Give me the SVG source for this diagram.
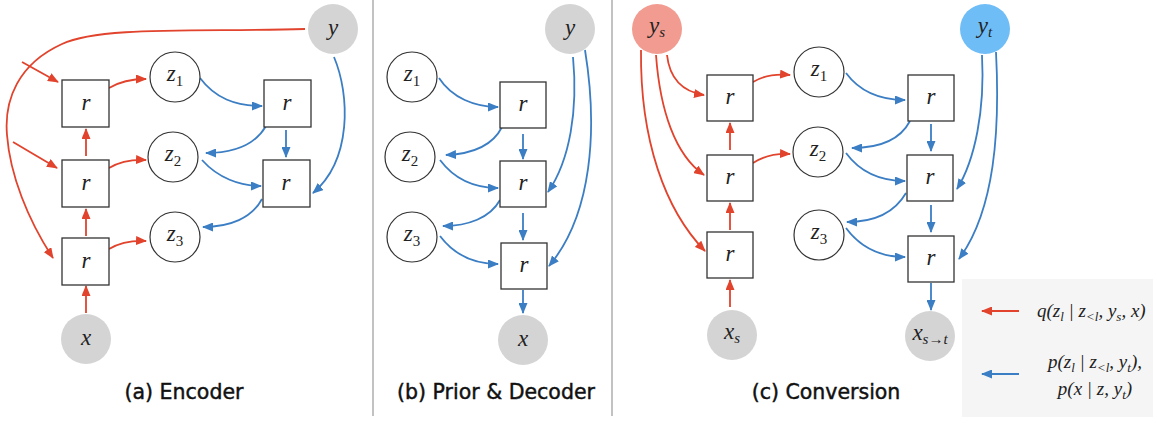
<svg xmlns="http://www.w3.org/2000/svg" width="1157" height="423" viewBox="0 0 1157 423">
<defs>
<marker id="ar" markerUnits="userSpaceOnUse" markerWidth="11" markerHeight="9" refX="10" refY="4.5" orient="auto"><path d="M0,0 L11,4.5 L0,9 z" fill="#e1432d"/></marker>
<marker id="ab" markerUnits="userSpaceOnUse" markerWidth="11" markerHeight="9" refX="10" refY="4.5" orient="auto"><path d="M0,0 L11,4.5 L0,9 z" fill="#3b7ec4"/></marker>
</defs>
<style>
.box{fill:#fff;stroke:#333;stroke-width:1.3}
.zc{fill:#fff;stroke:#333;stroke-width:1.2}
.gc{fill:#d4d4d4}
.lbl{font-family:'Liberation Serif','Times New Roman',serif;font-style:italic;font-size:23px;fill:#222;text-anchor:middle}
.sub{font-size:15px}
.num{font-size:15px;font-style:normal}
.red{fill:none;stroke:#e1432d;stroke-width:1.8;marker-end:url(#ar)}
.blue{fill:none;stroke:#3b7ec4;stroke-width:1.8;marker-end:url(#ab)}
.cap{font-family:'DejaVu Sans',sans-serif;font-size:20.5px;fill:#111;stroke:#111;stroke-width:0.45;text-anchor:middle}
.div{stroke:#999;stroke-width:1.2}
.leg{font-family:'Liberation Serif','Times New Roman',serif;font-style:italic;font-size:19px;fill:#222}
</style>
<rect width="1157" height="423" fill="#fff"/>
<line class="div" x1="373" y1="0" x2="373" y2="416"/>
<line class="div" x1="612" y1="0" x2="612" y2="416"/>

<g id="connectors">
<path class="red" d="M305,29 C200,32 100,26 62,44 C18,64 4,100 7,135 C10,175 28,220 53,258"/>
<path class="red" d="M22,62 L58,82"/>
<path class="red" d="M13,142 L57,168"/>
<path class="red" d="M109,88 Q124,79 146,79"/>
<path class="red" d="M109,168 Q124,159 146,160"/>
<path class="red" d="M109,249 Q124,240 146,241"/>
<path class="red" d="M86,156 L86,129"/>
<path class="red" d="M86,236 L86,209"/>
<path class="red" d="M86,313 L86,286"/>
<path class="blue" d="M200,78 C215,98 235,106 262,106"/>
<path class="blue" d="M266,126 C255,145 235,153 206,153"/>
<path class="blue" d="M286,130 L286,157"/>
<path class="blue" d="M202,160 C218,178 240,186 261,186"/>
<path class="blue" d="M262,199 C252,218 230,227 203,227"/>
<path class="blue" d="M334,57 C350,95 352,160 313,193"/>
<path class="blue" d="M439,78 C452,98 475,107 498,107"/>
<path class="blue" d="M502,127 C492,147 470,154 446,155"/>
<path class="blue" d="M523,134 L523,159"/>
<path class="blue" d="M440,160 C455,180 475,188 498,188"/>
<path class="blue" d="M500,200 C490,218 468,226 443,226"/>
<path class="blue" d="M523,213 L523,240"/>
<path class="blue" d="M440,236 C455,256 475,264 498,264"/>
<path class="blue" d="M523,290 L523,313"/>
<path class="blue" d="M573,57 C578,110 570,160 548,192"/>
<path class="blue" d="M585,50 C598,130 592,215 549,266"/>
<path class="red" d="M667,55 C670,82 685,92 704,95"/>
<path class="red" d="M656,55 C660,110 675,155 704,175"/>
<path class="red" d="M641,50 C640,140 665,210 705,251"/>
<path class="red" d="M753,82 Q768,73 790,75"/>
<path class="red" d="M753,163 Q768,153 790,154"/>
<path class="red" d="M730,150 L730,123"/>
<path class="red" d="M730,230 L730,203"/>
<path class="red" d="M730,307 L730,280"/>
<path class="blue" d="M846,73 C860,92 880,100 905,100"/>
<path class="blue" d="M910,121 C900,140 878,148 852,148"/>
<path class="blue" d="M931,124 L931,151"/>
<path class="blue" d="M846,153 C860,172 880,181 905,181"/>
<path class="blue" d="M906,193 C895,212 875,222 847,222"/>
<path class="blue" d="M931,205 L931,232"/>
<path class="blue" d="M846,228 C860,247 880,257 905,257"/>
<path class="blue" d="M931,283 L931,310"/>
<path class="blue" d="M982,55 C985,110 975,160 957,189"/>
<path class="blue" d="M996,52 C1000,130 995,210 959,259"/>
</g>

<g id="a-y"><circle class="gc" cx="333" cy="29" r="25"/><text class="lbl" x="333" y="35">y</text></g>
<g id="a-z1"><circle class="zc" cx="175" cy="77" r="25"/><text class="lbl" x="175" y="81">z<tspan class="num" dy="5">1</tspan></text></g>
<g id="a-z2"><circle class="zc" cx="173" cy="157" r="25"/><text class="lbl" x="173" y="161">z<tspan class="num" dy="5">2</tspan></text></g>
<g id="a-z3"><circle class="zc" cx="175" cy="237" r="25"/><text class="lbl" x="175" y="241">z<tspan class="num" dy="5">3</tspan></text></g>
<g id="a-x"><circle class="gc" cx="86" cy="339" r="25"/><text class="lbl" x="86" y="345">x</text></g>
<g id="a-r1"><rect class="box" x="62" y="80" width="47" height="47"/><text class="lbl" x="86" y="110">r</text></g>
<g id="a-r2"><rect class="box" x="62" y="160" width="47" height="47"/><text class="lbl" x="86" y="190">r</text></g>
<g id="a-r3"><rect class="box" x="62" y="238" width="47" height="47"/><text class="lbl" x="86" y="268">r</text></g>
<g id="a-r4"><rect class="box" x="264" y="80" width="47" height="47"/><text class="lbl" x="287" y="110">r</text></g>
<g id="a-r5"><rect class="box" x="263" y="160" width="47" height="47"/><text class="lbl" x="286" y="190">r</text></g>

<g id="b-y"><circle class="gc" cx="570" cy="29" r="25"/><text class="lbl" x="570" y="35">y</text></g>
<g id="b-z1"><circle class="zc" cx="412" cy="77" r="25"/><text class="lbl" x="412" y="81">z<tspan class="num" dy="5">1</tspan></text></g>
<g id="b-z2"><circle class="zc" cx="410" cy="157" r="25"/><text class="lbl" x="410" y="161">z<tspan class="num" dy="5">2</tspan></text></g>
<g id="b-z3"><circle class="zc" cx="412" cy="237" r="25"/><text class="lbl" x="412" y="241">z<tspan class="num" dy="5">3</tspan></text></g>
<g id="b-x"><circle class="gc" cx="523" cy="340" r="25"/><text class="lbl" x="523" y="346">x</text></g>
<g id="b-r1"><rect class="box" x="500" y="82" width="46" height="46"/><text class="lbl" x="523" y="111">r</text></g>
<g id="b-r2"><rect class="box" x="500" y="161" width="46" height="46"/><text class="lbl" x="523" y="190">r</text></g>
<g id="b-r3"><rect class="box" x="501" y="243" width="46" height="46"/><text class="lbl" x="524" y="272">r</text></g>

<g id="c-ys"><circle cx="657" cy="29" r="25" fill="#f29b90"/><text class="lbl" x="657" y="33">y<tspan class="sub" dy="4">s</tspan></text></g>
<g id="c-yt"><circle cx="985" cy="29" r="25" fill="#6fbdf6"/><text class="lbl" x="985" y="33">y<tspan class="sub" dy="4">t</tspan></text></g>
<g id="c-z1"><circle class="zc" cx="819" cy="72" r="25"/><text class="lbl" x="819" y="76">z<tspan class="num" dy="5">1</tspan></text></g>
<g id="c-z2"><circle class="zc" cx="818" cy="152" r="25"/><text class="lbl" x="818" y="156">z<tspan class="num" dy="5">2</tspan></text></g>
<g id="c-z3"><circle class="zc" cx="819" cy="235" r="25"/><text class="lbl" x="819" y="239">z<tspan class="num" dy="5">3</tspan></text></g>
<g id="c-xs"><circle class="gc" cx="732" cy="335" r="25"/><text class="lbl" x="732" y="339">x<tspan class="sub" dy="4">s</tspan></text></g>
<g id="c-xst"><circle class="gc" cx="930" cy="336" r="25"/><text class="lbl" x="930" y="340">x<tspan class="sub" dy="4">s→t</tspan></text></g>
<g id="c-r1"><rect class="box" x="707" y="75" width="46" height="46"/><text class="lbl" x="730" y="104">r</text></g>
<g id="c-r2"><rect class="box" x="707" y="155" width="46" height="46"/><text class="lbl" x="730" y="184">r</text></g>
<g id="c-r3"><rect class="box" x="707" y="232" width="46" height="46"/><text class="lbl" x="730" y="261">r</text></g>
<g id="c-r4"><rect class="box" x="908" y="75" width="46" height="46"/><text class="lbl" x="931" y="104">r</text></g>
<g id="c-r5"><rect class="box" x="907" y="155" width="46" height="46"/><text class="lbl" x="930" y="184">r</text></g>
<g id="c-r6"><rect class="box" x="908" y="236" width="46" height="46"/><text class="lbl" x="931" y="265">r</text></g>

<g id="captions">
<text class="cap" x="184" y="399">(a) Encoder</text>
<text class="cap" x="496" y="399">(b) Prior &amp; Decoder</text>
<text class="cap" x="826" y="399">(c) Conversion</text>
</g>

<g id="legend">
<rect x="962" y="279" width="191" height="138" fill="#f5f5f5"/>
<path class="red" d="M1019,311 L982,311"/>
<path class="blue" d="M1019,374 L982,374"/>
<text class="leg" x="1037" y="317">q(z<tspan font-size="13" dy="4">l</tspan><tspan dy="-4"> | z</tspan><tspan font-size="13" dy="4">&lt;l</tspan><tspan dy="-4">, y</tspan><tspan font-size="13" dy="4">s</tspan><tspan dy="-4">, x)</tspan></text>
<text class="leg" x="1095" y="368" text-anchor="middle">p(z<tspan font-size="13" dy="4">l</tspan><tspan dy="-4"> | z</tspan><tspan font-size="13" dy="4">&lt;l</tspan><tspan dy="-4">, y</tspan><tspan font-size="13" dy="4">t</tspan><tspan dy="-4">),</tspan></text>
<text class="leg" x="1095" y="395" text-anchor="middle">p(x | z, y<tspan font-size="13" dy="4">t</tspan><tspan dy="-4">)</tspan></text>
</g>
</svg>
